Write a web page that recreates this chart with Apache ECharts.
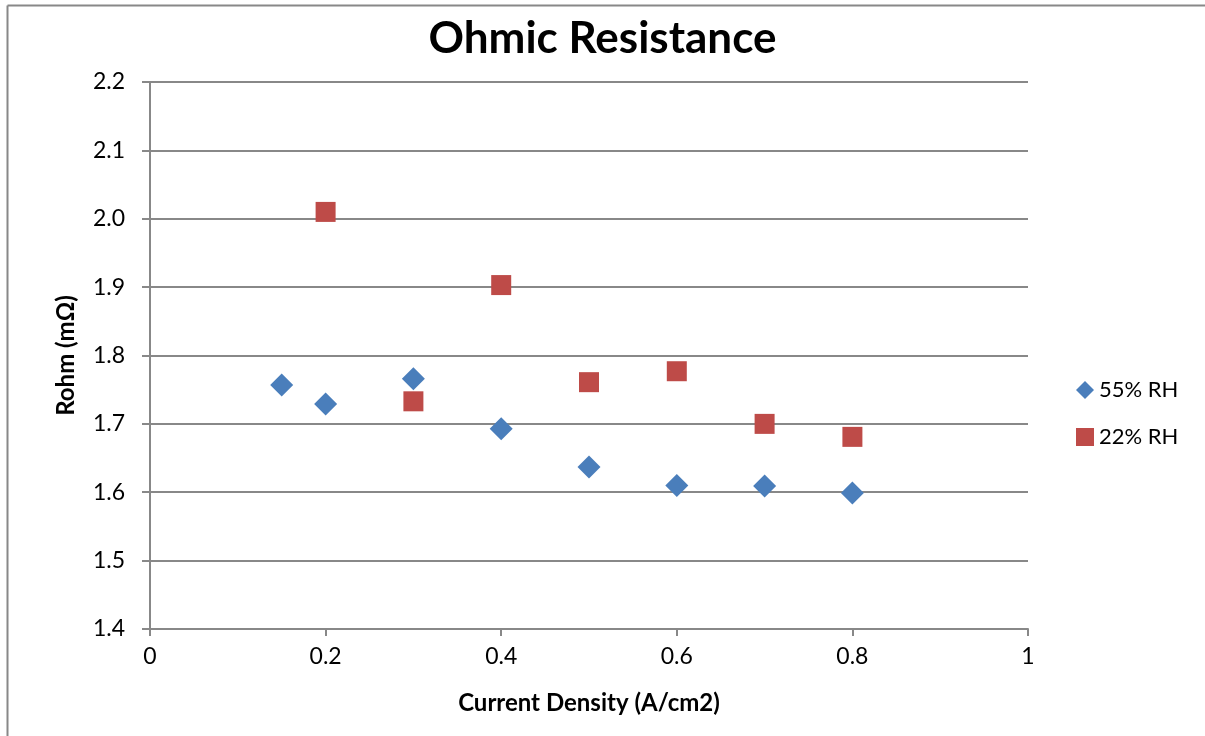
<!DOCTYPE html>
<html><head><meta charset="utf-8">
<script src="https://cdn.jsdelivr.net/npm/echarts@6/dist/echarts.min.js"></script>
<style>html,body{margin:0;padding:0;background:#fff}#c{width:1205px;height:736px}</style>
</head><body><div id="c"></div>
<script>
const xRH55 = [0.15, 0.2, 0.3, 0.4, 0.5, 0.6, 0.7, 0.8];
const yRH55 = [1.757, 1.729, 1.766, 1.693, 1.637, 1.610, 1.609, 1.599];
const xRH22 = [0.2, 0.3, 0.4, 0.5, 0.6, 0.7, 0.8];
const yRH22 = [2.010, 1.733, 1.903, 1.761, 1.777, 1.700, 1.681];
const seriesNames = ['55% RH', '22% RH'];
const title = 'Ohmic Resistance';
const xName = 'Current Density (A/cm2)';
const yName = 'Rohm (mΩ)';

const font = 'Lato, "Open Sans", sans-serif';
const chart = echarts.init(document.getElementById('c'));
const pair = (xs, ys) => xs.map((x, i) => [x, ys[i]]);
chart.setOption({
  animation: false,
  graphic: [
    {type:'line', shape:{x1:7.5, y1:5.5, x2:7.5, y2:740}, style:{stroke:'#888', lineWidth:2}, silent:true},
    {type:'line', shape:{x1:7.5, y1:5.5, x2:1210, y2:5.5}, style:{stroke:'#888', lineWidth:2}, silent:true}
  ],
  title: {text: title, left: 'center', top: 12, textStyle:{fontFamily: font, fontWeight:'bold', fontSize:44, color:'#000'}},
  grid: {left:150, right:177, top:82, bottom:107},
  legend: {orient:'vertical', left:1071, top:374, itemGap:25, itemWidth:18, itemHeight:18,
    textStyle:{fontFamily:font, fontSize:22, color:'#000'}, data: seriesNames},
  xAxis: {type:'value', min:0, max:1, interval:0.2,
    name: xName, nameLocation:'middle', nameGap:62,
    nameTextStyle:{fontFamily:font, fontWeight:'bold', fontSize:24, color:'#000'},
    axisLine:{lineStyle:{color:'#888', width:2}}, axisTick:{show:true, length:7, lineStyle:{color:'#888', width:2}},
    axisLabel:{fontFamily:font, fontSize:23, color:'#000', margin:16, formatter: v => String(Math.round(v*10)/10)},
    splitLine:{show:false}},
  yAxis: {type:'value', min:1.4, max:2.2, interval:0.1,
    name: yName, nameLocation:'middle', nameGap:72,
    nameTextStyle:{fontFamily:font, fontWeight:'bold', fontSize:24, color:'#000'},
    axisLine:{show:true, lineStyle:{color:'#888', width:2}}, axisTick:{show:true, length:8, lineStyle:{color:'#888', width:2}},
    axisLabel:{fontFamily:font, fontSize:23, color:'#000', margin:25, formatter: v => v.toFixed(1)},
    splitLine:{show:true, lineStyle:{color:'#888', width:2}}},
  series: [
    {name: seriesNames[0], type:'scatter', symbol:'diamond', symbolSize:[23,23],
      itemStyle:{color:'#4a7ebb', opacity:1}, data: pair(xRH55, yRH55)},
    {name: seriesNames[1], type:'scatter', symbol:'rect', symbolSize:[20,20],
      itemStyle:{color:'#be4b48', opacity:1}, data: pair(xRH22, yRH22)}
  ]
});
</script></body></html>
